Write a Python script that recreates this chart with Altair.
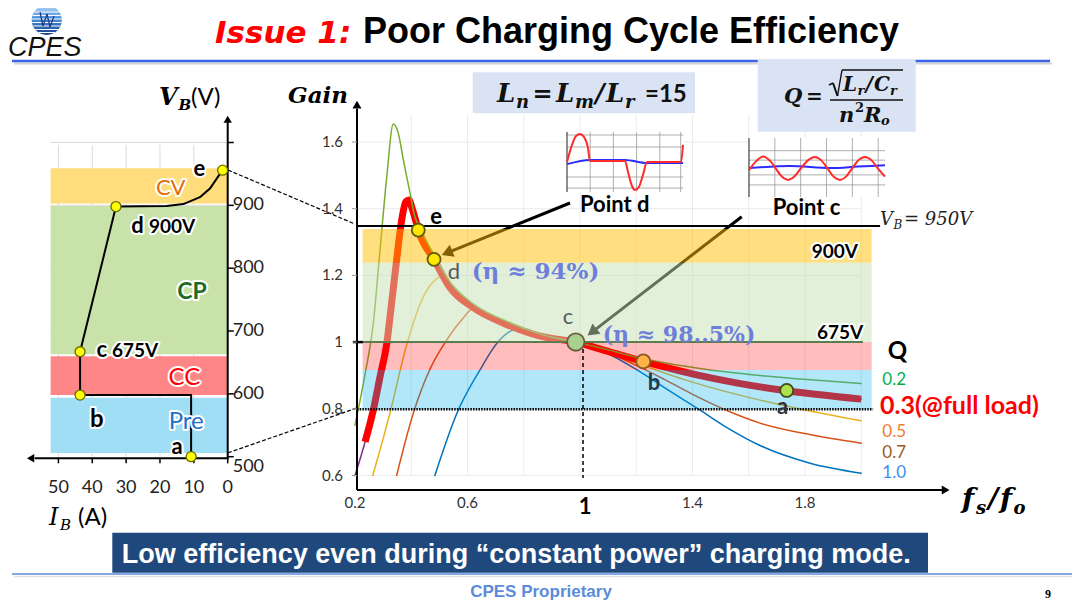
import math
import altair as alt
import pandas as pd

# ---------------- values ----------------
# Right panel: gain curves, x = fs/fo, y = gain
Q02_F = [0.200, 0.234, 0.265, 0.289, 0.313, 0.336, 0.354, 0.372, 0.396, 0.413, 0.430, 0.480, 0.540,
         0.620, 0.740, 0.860, 0.985, 1.100, 1.200, 1.300, 1.450, 1.640, 1.820, 2.000]
Q02_G = [0.751, 0.896, 1.056, 1.276, 1.496, 1.654, 1.626, 1.546, 1.446, 1.376, 1.345, 1.262, 1.178,
         1.115, 1.062, 1.024, 1.000, 0.977, 0.955, 0.938, 0.918, 0.900, 0.887, 0.876]
Q03_F = [0.200, 0.236, 0.265, 0.289, 0.313, 0.330, 0.348, 0.366, 0.381, 0.392, 0.403, 0.417, 0.425,
         0.481, 0.538, 0.621, 0.739, 0.858, 0.985, 1.100, 1.225, 1.403, 1.560, 1.735, 2.000]
Q03_G = [0.600, 0.701, 0.796, 0.896, 0.996, 1.116, 1.246, 1.366, 1.421, 1.426, 1.401, 1.361, 1.336,
         1.248, 1.163, 1.103, 1.053, 1.018, 1.000, 0.972, 0.942, 0.904, 0.877, 0.854, 0.829]
Q05_F = [0.263, 0.324, 0.382, 0.443, 0.490, 0.515, 0.545, 0.620, 0.740, 0.860, 0.985, 1.100, 1.225,
         1.400, 1.640, 1.780, 2.000]
Q05_G = [0.600, 0.786, 0.986, 1.136, 1.190, 1.200, 1.155, 1.097, 1.047, 1.015, 1.000, 0.970, 0.930,
         0.880, 0.826, 0.800, 0.764]
Q07_F = [0.348, 0.407, 0.465, 0.526, 0.579, 0.620, 0.660, 0.740, 0.860, 0.985, 1.100, 1.200, 1.300,
         1.420, 1.550, 1.640, 1.820, 2.000]
Q07_G = [0.600, 0.786, 0.916, 1.006, 1.066, 1.100, 1.085, 1.048, 1.014, 1.000, 0.968, 0.930, 0.888,
         0.835, 0.785, 0.757, 0.722, 0.697]
Q10_F = [0.484, 0.562, 0.644, 0.704, 0.763, 0.800, 0.860, 0.985, 1.100, 1.200, 1.296, 1.427, 1.530,
         1.640, 1.818, 2.000]
Q10_G = [0.600, 0.786, 0.916, 0.996, 1.036, 1.040, 1.020, 1.000, 0.965, 0.918, 0.866, 0.796, 0.740,
         0.690, 0.637, 0.607]

# operating points on the Q = 0.3 curve
OP_NAME = ["e", "d", "c", "b", "a"]
OP_F = [0.425, 0.481, 0.985, 1.225, 1.735]
OP_G = [1.336, 1.248, 1.000, 0.942, 0.855]
OP_FILL = ["#FFE800", "#FFE800", "#A9D18E", "#FFB347", "#ADE04A"]
OP_STROKE = ["#5E5A10", "#5E5A10", "#6A5A40", "#8A5A2A", "#3E4A20"]
OP_SIZE = [169, 169, 300, 196, 169]

# right panel bands (gain limits)
RB_LO = [1.238, 1.000, 0.916, 0.798]
RB_HI = [1.339, 1.238, 1.000, 0.916]
RB_COLOR = ["#FFC000", "#C5E0B4", "#FF0000", "#00B0F0"]
RB_OPAC = [0.5, 0.5, 0.26, 0.3]

# right panel reference lines: V_B = 950 V, 675 V, 500 V
RL_G = [1.348, 1.000, 0.799]
RL_END = [2.067, 2.006, 2.042]

# tick values
R_XTICKS = [0.2, 0.6, 1.4, 1.8]
R_YTICKS = [0.6, 0.8, 1.0, 1.2, 1.4, 1.6]
R_GRID_F = [0.4, 0.6, 0.8, 1.0, 1.2, 1.4, 1.6, 1.8, 2.0]
L_XTICKS = [0, 10, 20, 30, 40, 50]
L_YTICKS = [500, 600, 700, 800, 900, 1000]
L_YLABELS = [600, 700, 800, 900]

# left panel: charging trajectory  I_B (A), V_B (V)
PATH_I = [10.8, 10.8, 43.6, 43.6, 33.0, 18.0, 13.1, 8.2, 5.2, 3.2, 1.5]
PATH_V = [500, 598, 598, 667, 898, 899, 902, 913, 927, 943, 956]
LP_I = [1.5, 33.0, 43.6, 43.6, 10.8]
LP_V = [956, 898, 667, 598, 500]
LB_LO = [903, 663, 598, 506]
LB_HI = [959, 899, 660, 594]
LB_COLOR = ["#FFDA75", "#C5E0A5", "#FF8080", "#9BDCF5"]

# inset waveforms
IND_T = [0, 0.43, 0.78, 1.12, 1.47, 1.81, 1.98, 5.0, 5.26, 5.6, 5.86, 6.2, 6.55, 6.9, 9.83, 10.0]
IND_RED = [0, 0.57, 0.87, 0.93, 0.83, 0.47, 0.03, 0.03, -0.33, -0.8, -0.93, -0.83, -0.43, 0.0, 0.0, 0.57]
IND_BT = [0, 1.98, 5.0, 6.9, 10.0]
IND_BLUE = [-0.07, 0.07, 0.07, -0.03, -0.03]
INC_T = [0, 0.5, 1.05, 1.6, 1.96, 2.4, 2.87, 3.35, 3.86, 4.35, 4.85, 5.3, 5.77, 6.2, 6.69, 7.15,
         7.6, 8.05, 8.53, 9.0, 9.5, 10.0]
INC_RED = [-0.09, 0.2, 0.37, 0.2, -0.03, -0.3, -0.42, -0.3, 0.0, 0.25, 0.36, 0.25, -0.03, -0.3,
           -0.42, -0.3, -0.02, 0.25, 0.36, 0.25, -0.05, -0.31]
INC_BT = [0, 3, 6, 8, 10]
INC_BLUE = [-0.02, 0.05, -0.02, 0.03, 0.08]

# ---------------- helpers ----------------
one = pd.DataFrame({"k": [0]})


def T(s, x, y, size, color="#000000", font="Lato", weight="normal", style="normal",
      align="center", baseline="middle", halo=False):
    kw = dict(text=s, font=font, fontSize=size, fontWeight=weight, fontStyle=style,
              align=align, baseline=baseline)
    enc = dict(x=alt.value(x - 8), y=alt.value(y - 8))
    out = []
    if halo:
        out.append(alt.Chart(one).mark_text(color="white", stroke="white", strokeWidth=4,
                                            strokeJoin="round", **kw).encode(**enc))
    out.append(alt.Chart(one).mark_text(color=color, **kw).encode(**enc))
    return out


def PR(x1, y1, x2, y2, color="#000000", width=1.0, dash=None):
    kw = dict(color=color, strokeWidth=width)
    if dash:
        kw["strokeDash"] = dash
    return alt.Chart(one).mark_rule(**kw).encode(
        x=alt.value(x1 - 8), y=alt.value(y1 - 8), x2=alt.value(x2 - 8), y2=alt.value(y2 - 8))


def PRECT(x1, y1, x2, y2, color, opacity=1.0):
    return alt.Chart(one).mark_rect(color=color, opacity=opacity).encode(
        x=alt.value(x1 - 8), y=alt.value(y1 - 8), x2=alt.value(x2 - 8), y2=alt.value(y2 - 8))


# ---------------- right panel (gain curves) ----------------
XR = alt.Scale(domain=[0.2, 1.8], range=[347, 797], nice=False, zero=False)
YR = alt.Scale(domain=[0.6, 1.6], range=[467.5, 134.0], nice=False, zero=False)


def RX(f):
    return alt.X(f, type="quantitative", scale=XR, axis=None)


def RY(f):
    return alt.Y(f, type="quantitative", scale=YR, axis=None)


def rrules(x1, x2, y1, y2, color, width, dash=None):
    df = pd.DataFrame({"x1": x1, "x2": x2, "y1": y1, "y2": y2})
    kw = dict(color=color, strokeWidth=width)
    if dash:
        kw["strokeDash"] = dash
    return alt.Chart(df).mark_rule(**kw).encode(x=RX("x1"), x2="x2:Q", y=RY("y1"), y2="y2:Q")


def rcurve(fs, gs, color, width, cap="round"):
    df = pd.DataFrame({"f": fs, "g": gs, "o": list(range(len(fs)))})
    return alt.Chart(df).mark_line(color=color, strokeWidth=width, interpolate="monotone",
                                   strokeCap=cap, strokeJoin="round").encode(
        x=RX("f"), y=RY("g"), order="o:Q")


def rhead(f, g, shape, angle, size, color="#000000"):
    df = pd.DataFrame({"f": [f], "g": [g]})
    return alt.Chart(df).mark_point(shape=shape, angle=angle, size=size, filled=True,
                                    color=color, opacity=1).encode(x=RX("f"), y=RY("g"))


right_layers = []
# faint grid
right_layers.append(rrules(R_GRID_F, R_GRID_F, [0.6] * len(R_GRID_F), [1.68] * len(R_GRID_F), "#ebebeb", 1))
right_layers.append(rrules([0.207] * 6, [2.0] * 6, R_YTICKS, R_YTICKS, "#ebebeb", 1))
# curves
right_layers.append(rcurve(Q03_F, Q03_G, "#7E2F8E", 1.5))
right_layers.append(rcurve(Q05_F, Q05_G, "#EDB120", 1.5))
right_layers.append(rcurve(Q07_F, Q07_G, "#D95319", 1.5))
right_layers.append(rcurve(Q10_F, Q10_G, "#0072BD", 1.5))
right_layers.append(rcurve(Q03_F[1:], Q03_G[1:], "#FF0000", 7, cap="butt"))
right_layers.append(rcurve(Q02_F, Q02_G, "#77AC30", 1.5))
# arrows (under the bands)
right_layers.append(rrules([0.9644], [0.5271], [1.4171], [1.2676], "#000000", 3))
right_layers.append(rhead(0.5271, 1.2676, "triangle-right", 158, 170))
right_layers.append(rrules([1.575], [1.0427], [1.376], [1.030], "#000000", 3))
right_layers.append(rhead(1.0427, 1.030, "triangle-right", 142, 170))
# semi-transparent bands
band_df = pd.DataFrame({"x1": [0.227] * 4, "x2": [2.037] * 4, "lo": RB_LO, "hi": RB_HI,
                        "c": RB_COLOR, "op": RB_OPAC})
right_layers.append(alt.Chart(band_df).mark_rect().encode(
    x=RX("x1"), x2="x2:Q", y=RY("lo"), y2="hi:Q",
    color=alt.Color("c:N", scale=None), opacity=alt.Opacity("op:Q", scale=None)))
# reference lines
right_layers.append(rrules([0.207], [RL_END[0]], [RL_G[0]], [RL_G[0]], "#000000", 2))
right_layers.append(rrules([0.207], [RL_END[1]], [RL_G[1]], [RL_G[1]], "#5E7D4F", 2))
right_layers.append(rrules([0.193], [0.228], [RL_G[1]], [RL_G[1]], "#000000", 2.5))
right_layers.append(rrules([0.207], [RL_END[2]], [RL_G[2]], [RL_G[2]], "#000000", 2.5, [1.5, 1.2]))
right_layers.append(rrules([1.0107], [1.0107], [1.0], [0.5925], "#000000", 1.5, [4, 3]))
# dashed connectors from the left panel
right_layers.append(rrules([-0.2516, -0.2516], [0.2, 0.207], [1.516, 0.668], [1.354, 0.8025],
                           "#000000", 1.2, [4, 2]))
# axis lines, ticks, labels, arrow heads
right_layers.append(rrules([0.2071, 0.2071], [2.29, 0.2071], [0.5565, 0.5565], [0.5565, 1.70],
                           "#000000", 2))
right_layers.append(rrules([0.1893] * 6, [0.2071] * 6, R_YTICKS, R_YTICKS, "#999999", 1))
right_layers.append(rhead(2.300, 0.5565, "triangle-right", 0, 80))
right_layers.append(rhead(0.2071, 1.712, "triangle-up", 0, 80))
rxl = pd.DataFrame({"f": R_XTICKS, "g": [0.5565] * len(R_XTICKS)})
right_layers.append(alt.Chart(rxl).mark_text(font="Lato", fontSize=15, color="#333333", dy=12.7).encode(
    x=RX("f"), y=RY("g"), text=alt.Text("f:Q", format="~g")))
ryl = pd.DataFrame({"f": [0.2071] * len(R_YTICKS), "g": R_YTICKS})
right_layers.append(alt.Chart(ryl).mark_text(font="Lato", fontSize=15, color="#333333", dx=-14,
                                             align="right").encode(
    x=RX("f"), y=RY("g"), text=alt.Text("g:Q", format="~g")))
# operating points
op_df = pd.DataFrame({"f": OP_F, "g": OP_G, "fill": OP_FILL, "stroke": OP_STROKE,
                      "size": OP_SIZE, "n": OP_NAME})
right_layers.append(alt.Chart(op_df).mark_point(shape="circle", filled=True, opacity=1,
                                                strokeWidth=1.8).encode(
    x=RX("f"), y=RY("g"),
    fill=alt.Fill("fill:N", scale=None), stroke=alt.Stroke("stroke:N", scale=None),
    size=alt.Size("size:Q", scale=None)))
right = alt.layer(*right_layers)

# ---------------- left panel (V_B vs I_B) ----------------
XL = alt.Scale(domain=[0, 50], range=[219.7, 50.4], nice=False, zero=False)
YL = alt.Scale(domain=[500, 1000], range=[448.7, 134.5], nice=False, zero=False)


def LX(f):
    return alt.X(f, type="quantitative", scale=XL, axis=None)


def LY(f):
    return alt.Y(f, type="quantitative", scale=YL, axis=None)


def lrules(i1, i2, v1, v2, color, width):
    df = pd.DataFrame({"i1": i1, "i2": i2, "v1": v1, "v2": v2})
    return alt.Chart(df).mark_rule(color=color, strokeWidth=width).encode(
        x=LX("i1"), x2="i2:Q", y=LY("v1"), y2="v2:Q")


def lhead(i, v, shape, size):
    df = pd.DataFrame({"i": [i], "v": [v]})
    return alt.Chart(df).mark_point(shape=shape, size=size, filled=True, color="#000000",
                                    opacity=1).encode(x=LX("i"), y=LY("v"))


left_layers = []
gi = [10, 20, 30, 40, 50]
left_layers.append(lrules(gi, gi, [500] * 5, [996] * 5, "#dcdcdc", 1))
gv = [600, 700, 800, 900, 1000]
left_layers.append(lrules([52.3] * 5, [0] * 5, gv, gv, "#dcdcdc", 1))
lb_df = pd.DataFrame({"i1": [52.3] * 4, "i2": [0] * 4, "lo": LB_LO, "hi": LB_HI, "c": LB_COLOR})
left_layers.append(alt.Chart(lb_df).mark_rect(opacity=0.95).encode(
    x=LX("i1"), x2="i2:Q", y=LY("lo"), y2="hi:Q", color=alt.Color("c:N", scale=None)))
path_df = pd.DataFrame({"i": PATH_I, "v": PATH_V, "o": list(range(len(PATH_I)))})
left_layers.append(alt.Chart(path_df).mark_line(color="#000000", strokeWidth=2, strokeJoin="round").encode(
    x=LX("i"), y=LY("v"), order="o:Q"))
# axes
left_layers.append(lrules([-0.3, 0], [57.0, 0], [497.5, 497.5], [497.5, 1035], "#000000", 2))
left_layers.append(lrules(L_XTICKS, L_XTICKS, [497.5] * 6, [489.5] * 6, "#000000", 1.5))
left_layers.append(lrules([0] * 6, [-1.8] * 6, L_YTICKS, L_YTICKS, "#000000", 1.5))
left_layers.append(lhead(58.2, 497.5, "triangle-left", 70))
left_layers.append(lhead(0, 1037, "triangle-up", 70))
lxl = pd.DataFrame({"i": L_XTICKS, "v": [497.5] * len(L_XTICKS)})
left_layers.append(alt.Chart(lxl).mark_text(font="Lato", fontSize=18, color="#222222", dy=30).encode(
    x=LX("i"), y=LY("v"), text=alt.Text("i:Q", format="d")))
lyl = pd.DataFrame({"i": [0] * len(L_YLABELS), "v": L_YLABELS})
left_layers.append(alt.Chart(lyl).mark_text(font="Lato", fontSize=18, color="#222222", dx=5,
                                            align="left").encode(
    x=LX("i"), y=LY("v"), text=alt.Text("v:Q", format="d")))
lyl0 = pd.DataFrame({"i": [0], "v": [L_YTICKS[0]]})
left_layers.append(alt.Chart(lyl0).mark_text(font="Lato", fontSize=18, color="#222222", dx=5, dy=10,
                                             align="left").encode(
    x=LX("i"), y=LY("v"), text=alt.Text("v:Q", format="d")))
lp_df = pd.DataFrame({"i": LP_I, "v": LP_V})
left_layers.append(alt.Chart(lp_df).mark_point(shape="circle", filled=True, opacity=1, size=100,
                                               fill="#FFFF00", stroke="#6A6A00", strokeWidth=1.3).encode(
    x=LX("i"), y=LY("v")))
left = alt.layer(*left_layers)


# ---------------- insets ----------------
def inset(t_red, red, t_blue, blue, xr, yr, hgrid, vgrid, interp, box):
    xs = alt.Scale(domain=[0, 10], range=xr, nice=False, zero=False)
    ys = alt.Scale(domain=[-1, 1], range=yr, nice=False, zero=False)
    ix = lambda f: alt.X(f, type="quantitative", scale=xs, axis=None)
    iy = lambda f: alt.Y(f, type="quantitative", scale=ys, axis=None)
    L = [PRECT(*box, "#FFFFFF")]
    hg = pd.DataFrame({"t1": [0] * len(hgrid), "t2": [10] * len(hgrid), "y": hgrid})
    L.append(alt.Chart(hg).mark_rule(color="#9a9a9a", strokeWidth=0.8).encode(
        x=ix("t1"), x2="t2:Q", y=iy("y")))
    vg = pd.DataFrame({"t": vgrid, "y1": [-1] * len(vgrid), "y2": [1] * len(vgrid)})
    L.append(alt.Chart(vg).mark_rule(color="#9a9a9a", strokeWidth=0.8).encode(
        x=ix("t"), y=iy("y1"), y2="y2:Q"))
    fr = pd.DataFrame({"t": [0], "y1": [-1], "y2": [1]})
    L.append(alt.Chart(fr).mark_rule(color="#444444", strokeWidth=1.2).encode(
        x=ix("t"), y=iy("y1"), y2="y2:Q"))
    bd = pd.DataFrame({"t": t_blue, "y": blue, "o": list(range(len(t_blue)))})
    L.append(alt.Chart(bd).mark_line(color="#2B2BFF", strokeWidth=2, interpolate="monotone").encode(
        x=ix("t"), y=iy("y"), order="o:Q"))
    rd = pd.DataFrame({"t": t_red, "y": red, "o": list(range(len(t_red)))})
    L.append(alt.Chart(rd).mark_line(color="#FF2A2A", strokeWidth=2, interpolate=interp).encode(
        x=ix("t"), y=iy("y"), order="o:Q"))
    return alt.layer(*L)


insetD = inset(IND_T, IND_RED, IND_BT, IND_BLUE, [559, 675], [184, 124],
               [0.9, 0.5, -0.5, -0.87], [2, 4, 6, 8, 9.8], "monotone", (567, 131, 684, 192))
insetC = inset(INC_T, INC_RED, INC_BT, INC_BLUE, [741, 877], [189, 130],
               [0.57, 0.25, -0.25, -0.59], [1.9, 3.8, 5.7, 7.6, 9.5], "cardinal", (749, 137, 886, 197))

# ---------------- slide decorations and annotations ----------------
D = []
SER = "DejaVu Serif"
# title
D += T("Issue 1:", 215, 43, 31, "#FF0000", "DejaVu Sans", "bold", "italic", "left", "alphabetic")
D += T("Poor Charging Cycle Efficiency", 363, 43, 36, "#000000", "Liberation Sans", "bold",
       "normal", "left", "alphabetic")
D.append(PR(14, 63.5, 1052, 63.5, "#d4d4d4", 2))
D.append(PR(12, 61, 1050, 61, "#3C64E6", 2.5))
# logo
globe = {"gradient": "linear", "x1": 0, "x2": 0, "y1": 0, "y2": 1,
         "stops": [{"offset": 0, "color": "#b9dcf7"}, {"offset": 0.45, "color": "#4a8fdc"},
                   {"offset": 1, "color": "#123f8f"}]}
D.append(alt.Chart(one).mark_point(shape="circle", filled=True, size=900, fill=globe, opacity=1,
                                   strokeWidth=0).encode(x=alt.value(38.7), y=alt.value(12)))
for dy in [-8, -4.5, -1, 2.5, 6, 9.5, 12.5]:
    half = math.sqrt(225 - dy * dy) * 0.98
    D.append(PR(46.7 - half, 20 + dy, 46.7 + half, 20 + dy, "#FFFFFF", 1.0))
D.append(PR(40, 12, 43, 26, "#1a3a80", 1.2))
D.append(PR(43, 26, 47, 14, "#1a3a80", 1.2))
D.append(PR(47, 14, 50, 27, "#1a3a80", 1.2))
D.append(PR(50, 27, 54, 16, "#1a3a80", 1.2))
D += T("CPES", 8, 56, 27, "#111111", "Liberation Sans", "normal", "italic", "left", "alphabetic")
# L_n box
D.append(PRECT(472.7, 72.3, 695, 113.3, "#DAE3F3"))
for s, x, y, sz, st in [("L", 497, 101.7, 26, "italic"), ("n", 516, 107.7, 18, "italic"),
                        ("=", 532.5, 101.7, 24, "normal"), ("L", 556, 101.7, 26, "italic"),
                        ("m", 575, 107.7, 18, "italic"), ("/", 595, 101.7, 26, "italic"),
                        ("L", 606, 101.7, 26, "italic"), ("r", 625, 107.7, 18, "italic")]:
    D += T(s, x, y, sz, "#111111", SER, "bold", st, "left", "alphabetic")
D += T("=15", 645, 101.7, 24, "#111111", "Lato", "bold", "normal", "left", "alphabetic")
# Q box
D.append(PRECT(757.7, 59, 915.7, 131.7, "#DAE3F3"))
for s, x, y, sz, st in [("Q", 784, 103.3, 21, "italic"), ("=", 806, 103.3, 20, "normal"),
                        ("L", 843, 91, 20, "italic"), ("r", 857.5, 95, 13, "italic"),
                        ("/", 865.5, 91, 20, "italic"), ("C", 874, 91, 20, "italic"),
                        ("r", 890, 95, 13, "italic"), ("n", 839, 121.7, 21, "italic"),
                        ("2", 855, 111.5, 13, "normal"), ("R", 864, 121.7, 21, "italic"),
                        ("o", 881, 125, 13, "italic")]:
    D += T(s, x, y, sz, "#111111", SER, "bold", st, "left", "alphabetic")
D.append(PR(830, 100, 903, 100, "#111111", 1.6))
D.append(PR(829, 85, 833, 83, "#111111", 1.4))
D.append(PR(833, 83, 837.5, 96, "#111111", 2))
D.append(PR(837.5, 96, 842, 70, "#111111", 1.4))
D.append(PR(842, 70, 903, 70, "#111111", 1.4))
# left panel texts
D += T("V", 159, 105, 24, "#000000", SER, "bold", "italic", "left", "alphabetic")
D += T("B", 178.5, 110, 15, "#000000", SER, "bold", "italic", "left", "alphabetic")
D += T("(V)", 191, 105, 24, "#000000", "Lato", "normal", "normal", "left", "alphabetic")
D += T("I", 49, 525, 24, "#000000", SER, "normal", "italic", "left", "alphabetic")
D += T("B", 60, 530, 15, "#000000", SER, "normal", "italic", "left", "alphabetic")
D += T("(A)", 78, 525, 24, "#000000", "Lato", "normal", "normal", "left", "alphabetic")
D += T("e", 199.3, 169.3, 22, "#000000", "Lato", "bold", halo=True)
D += T("CV", 170.7, 188.3, 22, "#E46C0A", "Lato", "normal", halo=True)
D += T("d", 137.5, 225.7, 22, "#000000", "Lato", "bold", halo=True)
D += T("900V", 149, 226.5, 19, "#000000", "Lato", "bold", align="left", halo=True)
D += T("CP", 192, 291.7, 23, "#1E6B24", "Lato", "bold", halo=True)
D += T("c", 101.7, 350, 22, "#000000", "Lato", "bold", halo=True)
D += T("675V", 112, 350.5, 19, "#000000", "Lato", "bold", align="left", halo=True)
D += T("CC", 184.3, 378.3, 24, "#FF0000", "Lato", "normal", halo=True)
D += T("b", 96.7, 420, 24, "#000000", "Lato", "bold", halo=True)
D += T("Pre", 186.2, 421.7, 24, "#1F6FC5", "Lato", "normal", halo=True)
D += T("a", 177.2, 446.7, 22, "#000000", "Lato", "bold", halo=True)
# right panel texts
D += T("Gain", 288, 103.3, 23, "#000000", SER, "bold", "italic", "left", "alphabetic")
for s, x, y, sz in [("f", 962, 508.3, 28), ("s", 976, 514, 18), ("/", 988, 508.3, 28),
                    ("f", 1000, 508.3, 28), ("o", 1013.5, 514, 18)]:
    D += T(s, x, y, sz, "#000000", SER, "bold", "italic", "left", "alphabetic")
D += T("1", 585, 506.7, 22, "#000000", "Lato", "bold")
D += T("e", 436, 217.3, 22, "#000000", "Lato", "bold")
D += T("d", 454, 272, 22, "#595959", "Lato", "normal")
D += T("(\u03b7 \u2248 94%)", 471.7, 271.7, 23, "#6E7FD9", SER, "bold", "normal", "left")
D += T("c", 568, 316.7, 22, "#595959", "Lato", "normal")
D += T("(\u03b7 \u2248 98..5%)", 602.7, 335, 22, "#6E7FD9", SER, "bold", "normal", "left")
D += T("b", 654, 383.3, 22, "#203A4A", "Lato", "bold")
D += T("a", 782.5, 406.7, 22, "#333333", "Lato", "bold")
D += T("900V", 858, 252, 19, "#000000", "Lato", "bold", align="right", halo=True)
D += T("675V", 863.3, 333.3, 19, "#000000", "Lato", "bold", align="right", halo=True)
D += T("Point d", 580, 205, 22, "#000000", "Lato", "bold", align="left")
D += T("Point c", 772.7, 208, 22, "#000000", "Lato", "bold", align="left")
D += T("V", 880, 225, 18, "#222222", SER, "normal", "italic", "left", "alphabetic")
D += T("B", 893.5, 229, 12, "#222222", SER, "normal", "italic", "left", "alphabetic")
D += T("= 950V", 904, 225, 18, "#222222", SER, "normal", "italic", "left", "alphabetic")
# Q legend
D += T("Q", 897.5, 351.7, 24, "#000000", "Lato", "bold")
D += T("0.2", 882.3, 380, 17, "#00B050", "Lato", "normal", align="left")
D += T("0.3(@full load)", 880, 406, 25, "#FF0000", "Lato", "bold", align="left")
D += T("0.5", 882.3, 432, 17, "#ED7D31", "Lato", "normal", align="left")
D += T("0.7", 882.3, 452.5, 17, "#9C5A1E", "Lato", "normal", align="left")
D += T("1.0", 882.3, 473, 17, "#3E8DF0", "Lato", "normal", align="left")
# banner and footer
D.append(PRECT(112.3, 532.7, 928, 572.7, "#1F497D"))
D += T("Low efficiency  even during \u201cconstant power\u201d charging mode.", 121.7, 563, 27,
       "#FFFFFF", "Liberation Sans", "bold", "normal", "left", "alphabetic")
D.append(PR(14, 576.5, 1075, 576.5, "#e2e2e2", 1.5))
D.append(PR(12, 574, 1075, 574, "#5B8BD9", 1.5))
D += T("CPES Proprietary", 541, 591.7, 17, "#5B8BD9", "Liberation Sans", "bold")
D += T("9", 1048, 594, 12, "#000000", "Liberation Serif", "bold")
deco = alt.layer(*D)

chart = alt.layer(left, right, insetD, insetC, deco).resolve_scale(
    x="independent", y="independent"
).properties(
    width=1064, height=592, autosize=alt.AutoSizeParams(type="none"), padding=0,
    background="white"
).configure_view(strokeWidth=0)

chart.save("out.html", embed_options={"renderer": "svg", "actions": False})
